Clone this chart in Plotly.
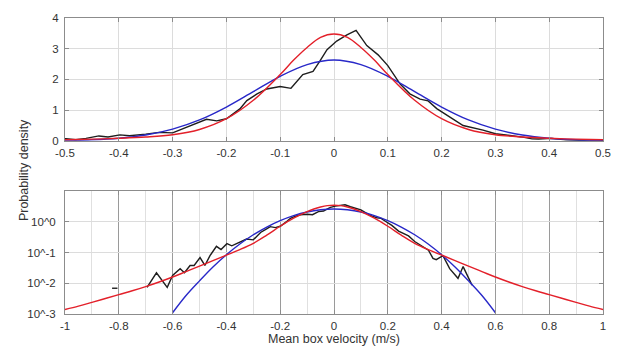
import plotly.graph_objects as go

# ---- data ----
emp_x = [-0.695, -0.66, -0.62, -0.60, -0.572, -0.556, -0.535, -0.52, -0.498, -0.48,
         -0.461, -0.437, -0.42, -0.398, -0.38, -0.35, -0.325, -0.30, -0.273, -0.249,
         -0.237, -0.218, -0.20, -0.175, -0.162, -0.143, -0.125, -0.10, -0.080, -0.058,
         -0.039, -0.026, -0.013, 0.005, 0.024, 0.041, 0.061, 0.082, 0.10, 0.123, 0.141,
         0.16, 0.175, 0.191, 0.215, 0.24, 0.277, 0.30, 0.351, 0.368, 0.38,
         0.405, 0.43, 0.461, 0.48, 0.513]
emp_y = [0.0074, 0.022, 0.0074, 0.018, 0.030, 0.022, 0.038, 0.038, 0.069, 0.038,
         0.079, 0.16, 0.126, 0.195, 0.166, 0.22, 0.275, 0.26, 0.45, 0.6,
         0.7, 0.65, 0.72, 1.04, 1.31, 1.53, 1.69, 1.77, 1.71, 2.16,
         2.26, 2.6, 2.97, 3.25, 3.45, 3.6, 3.1, 2.8, 2.45, 1.85, 1.53,
         1.36, 1.3, 1.05, 0.77, 0.5, 0.35, 0.23, 0.12, 0.065, 0.059,
         0.079, 0.03, 0.0145, 0.035, 0.0087]
stub_x = [-0.825, -0.805]
stub_y = [0.0069, 0.0069]

red_x = [-1.0, -0.95, -0.9, -0.85, -0.8, -0.75, -0.7, -0.65, -0.6, -0.55, -0.5,
         -0.45, -0.4, -0.35, -0.3, -0.25, -0.2, -0.15, -0.1, -0.075, -0.05, -0.025, 0.0,
         0.025, 0.05, 0.075, 0.1, 0.15, 0.2, 0.25, 0.3, 0.35, 0.4, 0.45, 0.5,
         0.55, 0.6, 0.65, 0.7, 0.75, 0.8, 0.85, 0.9, 0.95, 1.0]
red_y = [0.0014, 0.0018, 0.0024, 0.0032, 0.0043, 0.0057, 0.0078, 0.011, 0.016, 0.024, 0.036,
         0.055, 0.083, 0.125, 0.2, 0.37, 0.72, 1.32, 2.16, 2.63, 3.04, 3.37, 3.48,
         3.37, 3.04, 2.63, 2.16, 1.32, 0.72, 0.37, 0.2, 0.125, 0.083, 0.055, 0.036,
         0.024, 0.016, 0.011, 0.0078, 0.0057, 0.0043, 0.0032, 0.0024, 0.0018, 0.0014]

blue_x = [-0.6, -0.55, -0.5, -0.45, -0.4, -0.35, -0.3, -0.25, -0.2, -0.15, -0.1, -0.05, 0.0,
          0.05, 0.1, 0.15, 0.2, 0.25, 0.3, 0.35, 0.4, 0.45, 0.5, 0.55, 0.6]
blue_y = [0.0011, 0.004, 0.012, 0.034, 0.085, 0.19, 0.38, 0.68, 1.1, 1.6, 2.1, 2.48, 2.63,
          2.48, 2.1, 1.6, 1.1, 0.68, 0.38, 0.19, 0.085, 0.034, 0.012, 0.004, 0.0011]

top_xticks = [-0.5, -0.4, -0.3, -0.2, -0.1, 0, 0.1, 0.2, 0.3, 0.4, 0.5]
top_xlabels = ["-0.5", "-0.4", "-0.3", "-0.2", "-0.1", "0", "0.1", "0.2", "0.3", "0.4", "0.5"]
top_yticks = [0, 1, 2, 3, 4]
bot_xticks = [-1, -0.8, -0.6, -0.4, -0.2, 0, 0.2, 0.4, 0.6, 0.8, 1]
bot_xlabels = ["-1", "-0.8", "-0.6", "-0.4", "-0.2", "0", "0.2", "0.4", "0.6", "0.8", "1"]
bot_yticks = [1, 0.1, 0.01, 0.001]
bot_ylabels = ["10^0", "10^-1", "10^-2", "10^-3"]

BLACK = "#1e1e1e"
RED = "#e3202a"
BLUE = "#2828c8"
LW = 1.4

fig = go.Figure()
for xa, ya in (("x", "y"), ("x2", "y2")):
    fig.add_trace(go.Scatter(x=emp_x, y=emp_y, mode="lines", line=dict(color=BLACK, width=LW),
                             xaxis=xa, yaxis=ya, showlegend=False))
    fig.add_trace(go.Scatter(x=blue_x, y=blue_y, mode="lines", line=dict(color=BLUE, width=LW, shape="spline"),
                             xaxis=xa, yaxis=ya, showlegend=False))
    fig.add_trace(go.Scatter(x=red_x, y=red_y, mode="lines", line=dict(color=RED, width=LW, shape="spline"),
                             xaxis=xa, yaxis=ya, showlegend=False))
fig.add_trace(go.Scatter(x=stub_x, y=stub_y, mode="lines", line=dict(color=BLACK, width=LW),
                         xaxis="x2", yaxis="y2", showlegend=False))

axcommon = dict(showline=True, linecolor="#8c8c8c", linewidth=1, mirror="ticks",
                ticks="inside", ticklen=4, tickcolor="#8c8c8c", zeroline=False,
                tickfont=dict(size=11.5, color="#333"))

fig.update_layout(
    width=630, height=349,
    margin=dict(l=65, r=27, t=15, b=35),
    paper_bgcolor="white", plot_bgcolor="white",
    font=dict(family="Liberation Sans, Arial, sans-serif", size=11.5, color="#333"),
    xaxis=dict(domain=[0, 1], anchor="y", range=[-0.5, 0.5], tickvals=top_xticks, ticktext=top_xlabels,
               showgrid=True, gridcolor="#dcdcdc", ticklabelstandoff=1, **axcommon),
    yaxis=dict(domain=[0.585, 1], anchor="x", range=[0, 4], tickvals=top_yticks,
               showgrid=True, gridcolor="#dcdcdc", ticklabelstandoff=3, **axcommon),
    xaxis2=dict(domain=[0, 1], anchor="y2", range=[-1, 1], tickvals=bot_xticks, ticktext=bot_xlabels,
                showgrid=True, gridcolor="#9a9a9a",
                minor=dict(dtick=0.1, tick0=0, showgrid=True, gridcolor="#e0e0e0", ticks=""),
                ticklabelstandoff=1, **axcommon),
    yaxis2=dict(domain=[0, 0.415], anchor="x2", type="log", range=[-3, 1],
                tickvals=bot_yticks, ticktext=bot_ylabels, ticklabelstandoff=6,
                showgrid=True, gridcolor="#dcdcdc", **axcommon),
    annotations=[
        dict(text="Probability density", xref="paper", yref="paper", x=-0.075, y=0.485,
             xanchor="center", yanchor="middle", textangle=-90, showarrow=False,
             font=dict(size=12.5, color="#333")),
        dict(text="Mean box velocity (m/s)", xref="paper", yref="paper", x=0.5, y=-0.085,
             xanchor="center", yanchor="middle", showarrow=False,
             font=dict(size=12.5, color="#333")),
    ],
)

fig.write_html("out.html")
